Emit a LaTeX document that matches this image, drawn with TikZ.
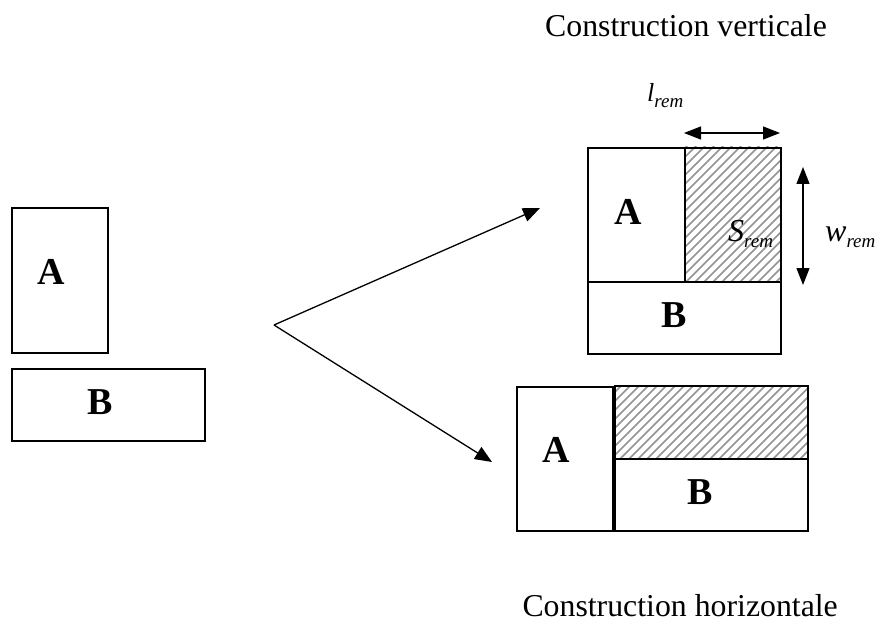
\documentclass[tikz,border=0pt]{standalone}
\usepackage{fontspec}
\setmainfont{Liberation Serif}
\usetikzlibrary{arrows.meta}
\begin{document}
\begin{tikzpicture}[x=1pt,y=-1pt,
  box/.style={draw,line width=1.6pt},
  lbl/.style={font=\fontsize{38}{42}\selectfont\bfseries,anchor=base,inner sep=0pt},
  ttl/.style={font=\fontsize{31.8}{36}\selectfont,inner sep=0pt,text depth=0pt},
  it/.style={font=\fontsize{32}{36}\selectfont,anchor=base west,inner sep=0pt},
  arr/.style={line width=1.3pt,-{Triangle[length=17pt,width=14pt]}},
  dim/.style={line width=1.3pt,{Triangle[length=17pt,width=13pt]}-{Triangle[length=17pt,width=13pt]}},
  hatch/.style={gray!85,line width=1.7pt}]
\newcommand{\subrem}{\raisebox{-6pt}{\fontsize{19}{22}\selectfont\itshape rem}}
\useasboundingbox (0,0) rectangle (876,623);
% left
\node[box,minimum width=96pt,minimum height=145pt,anchor=north west,inner sep=0pt] (la) at (11,207) {};
\node[lbl] at (51,284) {A};
\node[box,minimum width=193pt,minimum height=72pt,anchor=north west,inner sep=0pt] (lb) at (11,368) {};
\node[lbl] at (100,414) {B};
% arrows
\coordinate (o) at (274,325);
\coordinate (t1) at (540,208);
\coordinate (t2) at (492,462);
\draw[arr] (o) -- (t1);
\draw[arr] (o) -- (t2);
% upper right
\begin{scope}
\clip (684,147) rectangle (780,281);
\foreach \i in {-25,...,35} {\draw[hatch] (560+\i*9,300) -- (760+\i*9,100);}
\end{scope}
\node[box,minimum width=97pt,minimum height=134pt,anchor=north west,inner sep=0pt] (ua) at (587,147) {};
\node[box,minimum width=96pt,minimum height=134pt,anchor=north west,inner sep=0pt] (us) at (684,147) {};
\node[box,minimum width=193pt,minimum height=72pt,anchor=north west,inner sep=0pt] (ub) at (587,281) {};
\node[lbl] at (628,224) {A};
\node[lbl] at (674,327) {B};
\node[it] at (728,241) {\textit{S}\subrem};
\coordinate (h1) at (684,133);
\coordinate (h2) at (780,133);
\draw[dim] (h1) -- (h2);
\coordinate (v1) at (803,167);
\coordinate (v2) at (803,285);
\draw[dim] (v1) -- (v2);
\node[it,font=\fontsize{26}{30}\selectfont] at (647,102) {\textit{l}\subrem};
\node[it] at (825,241) {\textit{w}\subrem};
\node[ttl,anchor=base west] at (545,37) {Construction verticale};
% lower right
\begin{scope}
\clip (614,385) rectangle (807,458);
\foreach \i in {-25,...,35} {\draw[hatch] (500+\i*9,480) -- (600+\i*9,380);}
\end{scope}
\node[box,minimum width=96pt,minimum height=144pt,anchor=north west,inner sep=0pt] (da) at (516,386) {};
\node[box,minimum width=193pt,minimum height=73pt,anchor=north west,inner sep=0pt] (ds) at (614,385) {};
\node[box,minimum width=193pt,minimum height=72pt,anchor=north west,inner sep=0pt] (db) at (614,458) {};
\node[lbl] at (556,462) {A};
\node[lbl] at (700,504) {B};
\node[ttl,anchor=base east] at (838,616) {Construction horizontale};
\end{tikzpicture}
\end{document}
